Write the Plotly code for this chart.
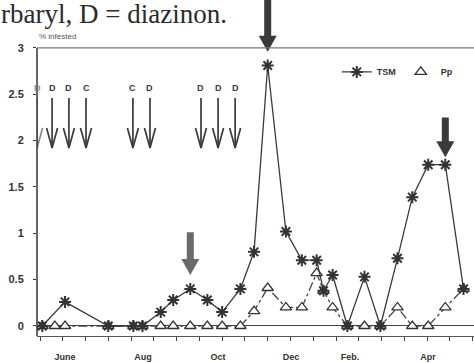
import plotly.graph_objects as go

# ---------------- data (x = sampling position, in axis-tick units) ----------------
sample_pos = [0.1, 0.65, 1.1, 3.0, 4.1, 4.5, 5.3, 5.85, 6.6, 7.35, 8.0, 8.8, 9.4, 10.0,
              10.8, 11.5, 12.15, 12.45, 12.85, 13.5, 14.25, 14.95, 15.7, 16.35, 17.05, 17.8, 18.6]
tsm = [0, None, 0.26, 0, 0, 0, 0.15, 0.28, 0.4, 0.28, 0.15, 0.4, 0.8, 2.81,
       1.02, 0.71, 0.71, 0.38, 0.55, 0, 0.53, 0, 0.73, 1.39, 1.74, 1.74, 0.4]
pp = [0, 0, 0, 0, 0, 0, 0, 0, 0, 0, 0, 0, 0.16, 0.41,
      0.2, 0.2, 0.57, 0.38, 0.2, 0, 0, 0, 0.2, 0, 0, 0.2, 0.4]

month_labels = ["June", "Aug", "Oct", "Dec", "Feb.", "Apr"]
month_pos = [1.1, 4.52, 7.82, 11.02, 13.61, 17.04]
minor_ticks = list(range(20))

y_tickvals = [0, 0.5, 1, 1.5, 2, 2.5, 3]
y_ticktext = ["0", "0.5", "1", "1.5", "2", "2.5", "3"]

# spray applications (C = carbaryl, D = diazinon)
spray_pos = [-0.13, 0.53, 1.27, 2.02, 4.08, 4.83, 7.07, 7.82, 8.57]
spray_labels = ["D", "D", "D", "C", "C", "D", "D", "D", "D"]
spray_top, spray_tip, spray_label_y = 2.46, 1.92, 2.57

# large block arrows
big_x = [6.6, 10.0, 17.8]
big_top = [1.01, 3.52, 2.25]
big_tip = [0.55, 2.96, 1.82]
big_color = ["#6a6a6a", "#3a3a3a", "#3a3a3a"]

# ---------------- layout geometry ----------------
W, H = 474, 363
ML, MR, MT, MB = 37, 0, 0, 27
X_RANGE = [-0.132, 19.06]
Y_RANGE = [-0.108, 3.517]
px_x = (W - ML - MR) / (X_RANGE[1] - X_RANGE[0])   # px per x unit
px_y = (H - MT - MB) / (Y_RANGE[1] - Y_RANGE[0])   # px per y unit

INK = "#333333"
FONT = "Liberation Sans"

fig = go.Figure()

# thin spray arrows (shaft + open V head)
for i, (sx, lab) in enumerate(zip(spray_pos, spray_labels)):
    col = "#8a8a8a" if i == 0 else "#3a3a3a"
    hw = 5.5 / px_x
    hh = 20 / px_y
    fig.add_trace(go.Scatter(
        x=[sx, sx, None, sx - hw, sx, sx + hw],
        y=[spray_top, spray_tip, None, spray_tip + hh, spray_tip, spray_tip + hh],
        mode="lines", line=dict(color=col, width=1.7), showlegend=False, hoverinfo="skip"))
    fig.add_annotation(x=sx, y=spray_label_y, text=lab, showarrow=False,
                       font=dict(family=FONT, size=9, color=col, weight="bold"),
                       xanchor="center", yanchor="middle")

# block arrows
for bx, bt, bp, bc in zip(big_x, big_top, big_tip, big_color):
    sw, hw, hl = 3.5 / px_x, 9 / px_x, 16 / px_y
    xs = [bx - sw, bx + sw, bx + sw, bx + hw, bx, bx - hw, bx - sw, bx - sw]
    ys = [bt, bt, bp + hl, bp + hl, bp, bp + hl, bp + hl, bt]
    fig.add_trace(go.Scatter(x=xs, y=ys, fill="toself", fillcolor=bc, mode="lines",
                             line=dict(width=0, color=bc), showlegend=False, hoverinfo="skip"))

# series
fig.add_trace(go.Scatter(
    x=sample_pos, y=pp, mode="lines+markers", name="Pp", showlegend=False,
    line=dict(color="#444444", width=1.3, dash="dashdot"),
    marker=dict(symbol="triangle-up", size=10, color="white", line=dict(color=INK, width=1.3))))
fig.add_trace(go.Scatter(
    x=sample_pos, y=tsm, mode="lines+markers", name="TSM", connectgaps=True,
    line=dict(color="#3a3a3a", width=1.3),
    marker=dict(symbol="asterisk-open", size=10, color=INK, line=dict(color=INK, width=2))))
# legend entry for Pp (symbol only, as in the original)
fig.add_trace(go.Scatter(
    x=[None], y=[None], mode="markers", name="Pp",
    marker=dict(symbol="triangle-up", size=10, color="white", line=dict(color=INK, width=1.3))))

# frame lines
fig.add_shape(type="line", xref="paper", yref="y", x0=0, x1=0, y0=Y_RANGE[0], y1=3,
              line=dict(color=INK, width=1.5))
fig.add_shape(type="line", xref="paper", yref="y", x0=0, x1=1, y0=3, y1=3,
              line=dict(color="#7a7a7a", width=1.3))

# texts
fig.add_annotation(xref="paper", yref="paper", x=-0.088, y=1.01, yanchor="top",
                   xanchor="left", text="rbaryl, D = diazinon.", showarrow=False,
                   font=dict(family="Liberation Serif", size=27, color="#2a2a2a"))
fig.add_annotation(xref="paper", yref="y", x=0.0, y=3.12, xanchor="left", yanchor="middle",
                   text="% infested", showarrow=False,
                   font=dict(family=FONT, size=8, color="#555555"))

fig.update_layout(
    width=W, height=H,
    margin=dict(l=ML, r=MR, t=MT, b=MB),
    paper_bgcolor="white", plot_bgcolor="white",
    showlegend=True,
    legend=dict(orientation="h", x=0.686, y=0.786, xanchor="left", yanchor="middle",
                font=dict(family=FONT, size=9, color=INK, weight="bold"),
                bgcolor="rgba(0,0,0,0)", itemwidth=30, tracegroupgap=0),
    xaxis=dict(range=X_RANGE, showgrid=False, zeroline=False,
               showline=True, linecolor="#555555", linewidth=1.2,
               tickmode="array", tickvals=month_pos, ticktext=month_labels, ticks="",
               ticklabelstandoff=12,
               tickfont=dict(family=FONT, size=9, color=INK, weight="bold"),
               minor=dict(tickmode="array", tickvals=minor_ticks, ticks="outside",
                          ticklen=4, tickcolor="#444444", tickwidth=1.2)),
    yaxis=dict(range=Y_RANGE, showgrid=False, zeroline=True, zerolinecolor="#444444",
               zerolinewidth=1.2, showline=False,
               tickmode="array", tickvals=y_tickvals, ticktext=y_ticktext,
               ticks="outside", ticklen=3, tickcolor=INK, ticklabelstandoff=7,
               tickfont=dict(family=FONT, size=11, color=INK, weight="bold")),
)

fig.write_html("out.html")
